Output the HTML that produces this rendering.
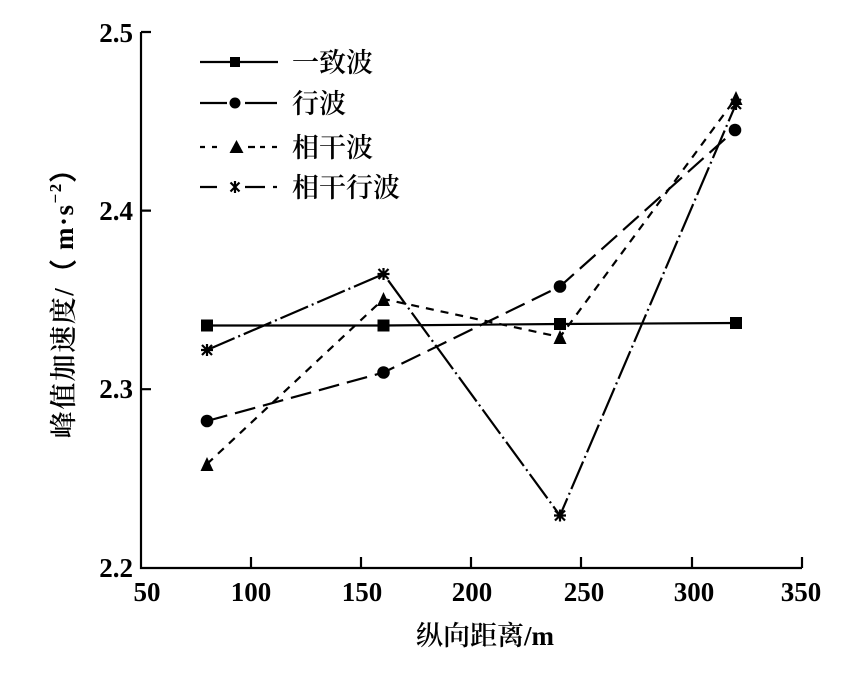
<!DOCTYPE html>
<html><head><meta charset="utf-8"><style>
html,body{margin:0;padding:0;background:#fff;}
svg{display:block;}
.num{font-family:"Liberation Serif",serif;font-weight:bold;font-size:27px;fill:#000;}
.cjk{font-family:"Liberation Serif","Noto Serif CJK SC",serif;font-weight:600;font-size:27px;fill:#000;}
</style></head><body>
<svg width="867" height="673" viewBox="0 0 867 673" xmlns="http://www.w3.org/2000/svg">
<rect width="867" height="673" fill="#fff"/>
<!-- axes -->
<g stroke="#000" stroke-width="2.2" fill="none">
<path d="M141,32 V568 H802"/>
<path d="M141,32 H151 M141,210.6 H151 M141,389.2 H151"/>
<path d="M251,568 V557 M361,568 V557 M471,568 V557 M581,568 V557 M692,568 V557 M802,568 V557"/>
</g>
<!-- y tick labels -->
<g class="num" text-anchor="end">
<text x="133" y="42">2.5</text>
<text x="133" y="220">2.4</text>
<text x="133" y="398">2.3</text>
<text x="133" y="577">2.2</text>
</g>
<!-- x tick labels -->
<g class="num" text-anchor="middle">
<text x="147" y="601">50</text>
<text x="251" y="601">100</text>
<text x="362" y="601">150</text>
<text x="472" y="601">200</text>
<text x="584" y="601">250</text>
<text x="694" y="601">300</text>
<text x="801" y="601">350</text>
</g>
<!-- axis titles -->
<text class="cjk" x="485" y="645" text-anchor="middle">纵向距离<tspan font-family="Liberation Serif" font-weight="bold">/m</tspan></text>
<text class="cjk" transform="translate(64,296) rotate(-90)" text-anchor="middle" dominant-baseline="central" letter-spacing="1.5">峰值加速度<tspan font-family="Liberation Serif">/（ m·s</tspan><tspan font-family="Liberation Serif" font-size="17" dy="-9">−2</tspan><tspan font-family="Liberation Serif" dy="9">）</tspan></text>

<!-- series lines -->
<g fill="none" stroke="#000" stroke-width="2.2">
<polyline points="207,325.5 383.5,325.5 560,324 736,323"/>
<polyline points="207,421 383.5,372.5 560,286.5 735,130" stroke-dasharray="21 8"/>
<polyline points="207,464 383.5,299 560,337 736,98" stroke-dasharray="8 7"/>
<polyline points="207,350 383.5,274 560,515.5 736,104" stroke-dasharray="30 4 2 4"/>
</g>
<!-- markers: squares -->
<g fill="#000">
<rect x="201" y="319.5" width="12" height="12"/>
<rect x="377.5" y="319.5" width="12" height="12"/>
<rect x="554" y="318" width="12" height="12"/>
<rect x="730" y="317" width="12" height="12"/>
<!-- circles -->
<circle cx="207" cy="421" r="6.3"/>
<circle cx="383.5" cy="372.5" r="6.3"/>
<circle cx="560" cy="286.5" r="6.3"/>
<circle cx="735" cy="130" r="6.3"/>
<!-- triangles -->
<polygon points="207,457 200.5,471 213.5,471"/>
<polygon points="383.5,292 377,306 390,306"/>
<polygon points="560,330 553.5,344 566.5,344"/>
<polygon points="736,91 729.5,105 742.5,105"/>
</g>
<!-- asterisks -->
<g stroke="#000" stroke-width="2.2" fill="none">
<path d="M207,344 V356 M202,345 L212,355 M212,345 L202,355 M201,350 H213"/>
<path d="M383.5,268 V280 M378.5,269 L388.5,279 M388.5,269 L378.5,279 M377.5,274 H389.5"/>
<path d="M560,509.5 V521.5 M555,510.5 L565,520.5 M565,510.5 L555,520.5 M554,515.5 H566"/>
<path d="M736,98 V110 M731,99 L741,109 M741,99 L731,109"/>
</g>

<!-- legend -->
<g stroke="#000" stroke-width="2.2" fill="none">
<path d="M200,62 H278"/>
<path d="M200,103 H227 M245,103 H277"/>
<path d="M200,147 H205 M212,147 H217 M248,147 H255 M260,147 H265 M272,147 H277"/>
<path d="M200,187 H217 M245,187 H265 M273,187 H277"/>
<path d="M235,181 V193 M230.5,182.5 L239.5,191.5 M239.5,182.5 L230.5,191.5"/>
</g>
<g fill="#000">
<rect x="230" y="57" width="10" height="10"/>
<circle cx="235" cy="103" r="5.5"/>
<polygon points="236.5,140 229.5,153 243.5,153"/>
</g>
<g class="cjk">
<text x="292" y="72">一致波</text>
<text x="292" y="113">行波</text>
<text x="292" y="157">相干波</text>
<text x="292" y="197">相干行波</text>
</g>
</svg>
</body></html>
